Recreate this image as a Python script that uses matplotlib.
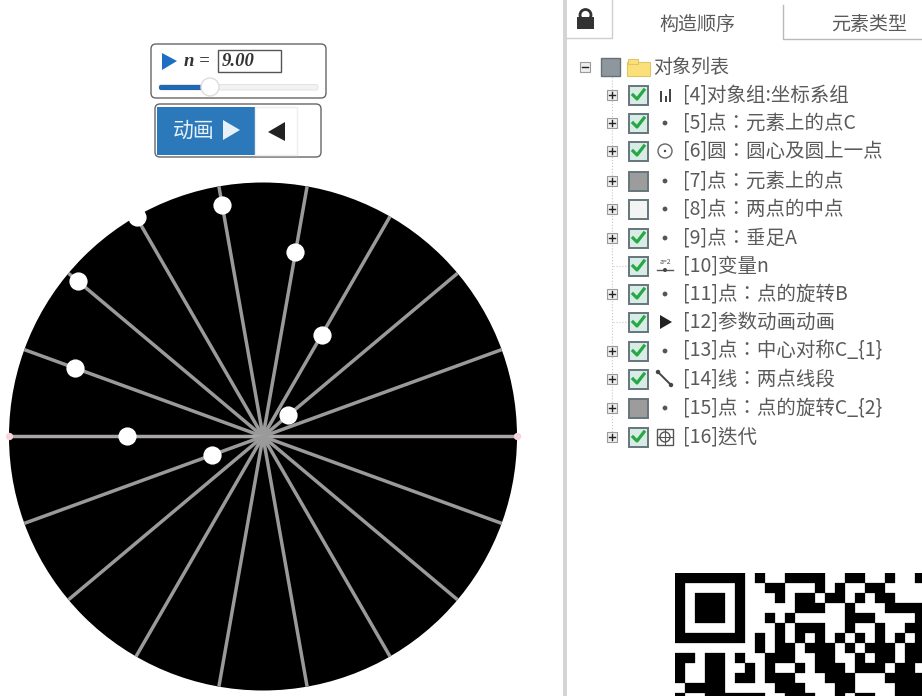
# sketch of the circle construction page with its object tree
import numpy as np
import matplotlib
matplotlib.use('Agg')
import matplotlib.pyplot as plt
from matplotlib.patches import Circle, Rectangle, FancyBboxPatch, Polygon

plt.rcParams['font.family'] = ['Noto Sans CJK SC', 'DejaVu Sans']

# spokes, every 20 degrees
spoke_angles = [0, 20, 40, 60, 80, 100, 120, 140, 160, 180,
                200, 220, 240, 260, 280, 300, 320, 340]
# white points, radius is a fraction of the disc radius
dot_angles = [40, 60, 80, 100, 120, 140, 160, 180, 200]
dot_radii = [0.130, 0.461, 0.736, 0.925, 0.996, 0.953, 0.787, 0.535, 0.213]

slider_value = '9.00'
slider_name = 'n ='
button_text = '动画'
tab_names = ['构造顺序', '元素类型']
root_label = '对象列表'

tree_labels = ['[4]对象组:坐标系组', '[5]点：元素上的点C', '[6]圆：圆心及圆上一点',
               '[7]点：元素上的点', '[8]点：两点的中点', '[9]点：垂足A', '[10]变量n',
               '[11]点：点的旋转B', '[12]参数动画动画', '[13]点：中心对称C_{1}',
               '[14]线：两点线段', '[15]点：点的旋转C_{2}', '[16]迭代']
tree_states = ['on', 'on', 'on', 'gray', 'off', 'on', 'on', 'on', 'on', 'on', 'on', 'gray', 'on']
tree_icons = ['bars', 'dot', 'circle', 'dot', 'dot', 'dot', 'var', 'dot', 'play', 'dot', 'line', 'dot', 'iter']
tree_expand = [1, 1, 1, 1, 1, 1, 0, 1, 0, 1, 1, 1, 1]
tree_rows = [95, 123, 151, 181, 209, 238, 266, 294, 322, 351, 379, 408, 437]

# part of the QR code that is visible
qr_rows = [
    '1111111 1  1111  11  1  1',
    '1     1  11   1 1  11    ',
    '1 111 1   1 11 11 1 11   ',
    '1 111 1     111  1   1111',
    '1 111 1  1 1     111    1',
    '1     1   1 111  1  1  11',
    '1111111 1 1 1 1 1 1 1 1 1',
    '        1 11 111 1 111 11',
    '11 11 1  111  11  1 11 11',
    '1  11  1 1  1 111 111 11 ',
    '1  11 11 111   111   1111',
    ' 1111     111   11    111',
    '1  111111  111  1 11  111',
]

W, H = 922, 696
TEXT = '#5a5a5a'
LABEL_FONT = ['Noto Sans CJK TC', 'DejaVu Sans']  # centres the full width colon

fig = plt.figure(figsize=(W / 100, H / 100), dpi=100, facecolor='white')
ax = fig.add_axes([0, 0, 1, 1])
ax.set_xlim(0, W)
ax.set_ylim(H, 0)
ax.axis('off')

# disc gets its own axes so spokes and dots run through its scale
cx, cy, rad = 263, 436.5, 254
disc = fig.add_axes([(cx - rad - 4) / W, 1 - (cy + rad + 4) / H, (2 * rad + 8) / W, (2 * rad + 8) / H])
lim = (rad + 4) / rad
disc.set_xlim(-lim, lim)
disc.set_ylim(-lim, lim)
disc.axis('off')
disc.add_patch(Circle((0, 0), 1, fc='black', ec='none'))
for a in spoke_angles:
    t = np.deg2rad(a)
    col = '#aaa6a6' if a in (0, 180) else '#9a9a9a'
    disc.plot([0, np.cos(t)], [0, np.sin(t)], color=col, lw=2.5, solid_capstyle='butt')
t = np.deg2rad(dot_angles)
disc.scatter(np.array(dot_radii) * np.cos(t), np.array(dot_radii) * np.sin(t),
             s=172, color='white', zorder=5, linewidths=0)
disc.scatter([-1, 1], [0, 0], s=28, color='#f6d5dc', zorder=6, linewidths=0)


def box(x0, y0, x1, y1, fc='white', ec='#666666', lw=1.0, r=5, z=2):
    ax.add_patch(FancyBboxPatch((x0 + r, y0 + r), x1 - x0 - 2 * r, y1 - y0 - 2 * r,
                                boxstyle='round,pad=%d' % r, fc=fc, ec=ec, lw=lw, zorder=z))


def tri(pts, col, z=4):
    ax.add_patch(Polygon(pts, closed=True, fc=col, ec='none', zorder=z))


# slider widget
box(151, 44, 326, 98)
tri([(162, 53), (162, 70), (177, 61)], '#1e6fc4')
ax.text(184, 61, slider_name, family='Liberation Serif', style='italic', weight='bold',
        fontsize=13.5, va='center', color='#333333')
ax.add_patch(Rectangle((218, 50), 63, 22, fc='white', ec='#555555', lw=1, zorder=3))
ax.text(222, 61, slider_value, family='Liberation Serif', style='italic', weight='bold',
        fontsize=13.5, va='center', color='#333333', zorder=4)
box(159, 84.5, 318, 90, fc='#f2f2f2', ec='#e2e2e2', lw=0.7, r=2)
box(159, 85, 204, 90, fc='#1f68b5', ec='none', lw=0, r=2, z=3)
ax.add_patch(Circle((210, 87), 9, fc='white', ec='#dddddd', lw=1, zorder=4))

# animation button
box(155, 104, 321, 157)
ax.add_patch(Rectangle((157, 107), 98, 48, fc='#2b79bb', ec='none', zorder=3))
ax.add_patch(Rectangle((255, 107), 42, 48, fc='white', ec='#eeeeee', lw=1, zorder=3))
ax.text(173, 131, button_text, fontsize=15, color='#e8f1f8', va='center', zorder=4)
tri([(223, 120), (223, 140), (240, 130)], '#e8f1f8')
tri([(285, 122), (285, 141), (268, 132)], '#222222')

# right panel frame and tabs
ax.add_patch(Rectangle((563, 0), 4, H, fc='#d4d4d4', ec='none'))
ax.plot([567, 612, 612], [38, 38, 0], color='#cfcfcf', lw=1)
ax.plot([783, 783, W], [5, 39, 39], color='#b9b9b9', lw=1)
ax.add_patch(Rectangle((577, 17), 17, 12, fc='#333333', ec='none'))
ax.add_patch(Circle((585.5, 15), 5.5, fc='none', ec='#333333', lw=2))
ax.text(697, 24, tab_names[0], fontsize=13.7, color=TEXT, ha='center', va='center')
ax.text(869, 24, tab_names[1], fontsize=13.7, color=TEXT, ha='center', va='center')

# tree guide line
ax.plot([612, 612], [77, 437], color='#c9c9c9', lw=0.8, ls=':')


def expander(x, y, plus=True):
    ax.add_patch(Rectangle((x - 5, y - 5), 10, 10, fc='#eeeeee', ec='#9a9a9a', lw=0.8, zorder=3))
    ax.plot([x - 3, x + 3], [y, y], color='#222222', lw=1, zorder=4)
    if plus:
        ax.plot([x, x], [y - 3, y + 3], color='#222222', lw=1, zorder=4)


def checkbox(x, y, state):
    fc = {'on': '#d8ece6', 'gray': '#9c9c9c', 'off': '#f4f4f4'}[state]
    ax.add_patch(Rectangle((x - 9.5, y - 9.5), 19, 19, fc=fc, ec='#66757c', lw=1.4, zorder=3))
    if state == 'on':
        ax.plot([x - 5, x - 1, x + 6], [y, y + 4, y - 5], color='#27a844', lw=2.3, zorder=4)


def icon(x, y, kind):
    c = '#444444'
    if kind == 'dot':
        ax.add_patch(Circle((x, y), 2.4, fc='#555555', ec='none', zorder=4))
    elif kind == 'bars':
        for dx, h in zip((-5, 0, 4), (11, 6, 13)):
            ax.add_patch(Rectangle((x + dx, y + 7 - h), 2, h, fc=c, ec='none', zorder=4))
    elif kind == 'circle':
        ax.add_patch(Circle((x, y), 7, fc='none', ec='#666666', lw=1, zorder=4))
        ax.add_patch(Circle((x, y), 1.2, fc=c, ec='none', zorder=4))
    elif kind == 'var':
        ax.text(x, y - 4, 'a=2', fontsize=5, color='#555555', ha='center', va='center', zorder=4)
        ax.plot([x - 8, x + 8], [y + 4, y + 4], color='#555555', lw=1, zorder=4)
        ax.add_patch(Circle((x, y + 4), 2, fc=c, ec='none', zorder=4))
    elif kind == 'play':
        tri([(x - 5, y - 7), (x - 5, y + 7), (x + 7, y)], '#222222')
    elif kind == 'line':
        ax.plot([x - 7, x + 6], [y - 7, y + 6], color=c, lw=1.4, zorder=4)
        ax.add_patch(Circle((x - 7, y - 7), 2.2, fc=c, ec='none', zorder=4))
        ax.add_patch(Circle((x + 6, y + 6), 2.2, fc=c, ec='none', zorder=4))
    elif kind == 'iter':
        ax.add_patch(Rectangle((x - 8, y - 8), 16, 16, fc='none', ec='#555555', lw=1, zorder=4))
        ax.add_patch(Circle((x, y), 5, fc='none', ec='#555555', lw=1, zorder=4))
        ax.plot([x - 8, x + 8], [y, y], color='#555555', lw=0.8, zorder=4)
        ax.plot([x, x], [y - 8, y + 8], color='#555555', lw=0.8, zorder=4)


# root row
expander(585, 67, plus=False)
ax.add_patch(Rectangle((601, 58), 19, 18, fc='#8f979e', ec='#667078', lw=1, zorder=3))
ax.add_patch(Rectangle((627, 62), 23, 14, fc='#fbe07a', ec='#e0c468', lw=0.8, zorder=3))
ax.add_patch(Rectangle((628, 59), 10, 5, fc='#fbe07a', ec='#e0c468', lw=0.8, zorder=3))
ax.text(653, 67, root_label, fontsize=13.7, color=TEXT, va='center')

# tree rows
for label, state, kind, exp, y in zip(tree_labels, tree_states, tree_icons, tree_expand, tree_rows):
    if exp:
        expander(612, y)
    else:
        ax.plot([613, 628], [y, y], color='#d6c8c8', lw=0.8, ls=':')
    checkbox(638, y, state)
    icon(665, y, kind)
    ax.text(683, y, label, fontsize=14, color=TEXT, va='center', family=LABEL_FONT)

# QR code, drawn cell by cell from the rows above
qr = fig.add_axes([675 / W, 0, (W - 675) / W, (H - 573) / H])
qr.set_xlim(0, (W - 675) / 10)
qr.set_ylim((H - 573) / 10, 0)
qr.axis('off')
for r, row in enumerate(qr_rows):
    for c, cell in enumerate(row):
        if cell == '1':
            qr.add_patch(Rectangle((c, r), 1, 1, fc='black', ec='black', lw=0.2))

fig.savefig('out.png', dpi=100)
